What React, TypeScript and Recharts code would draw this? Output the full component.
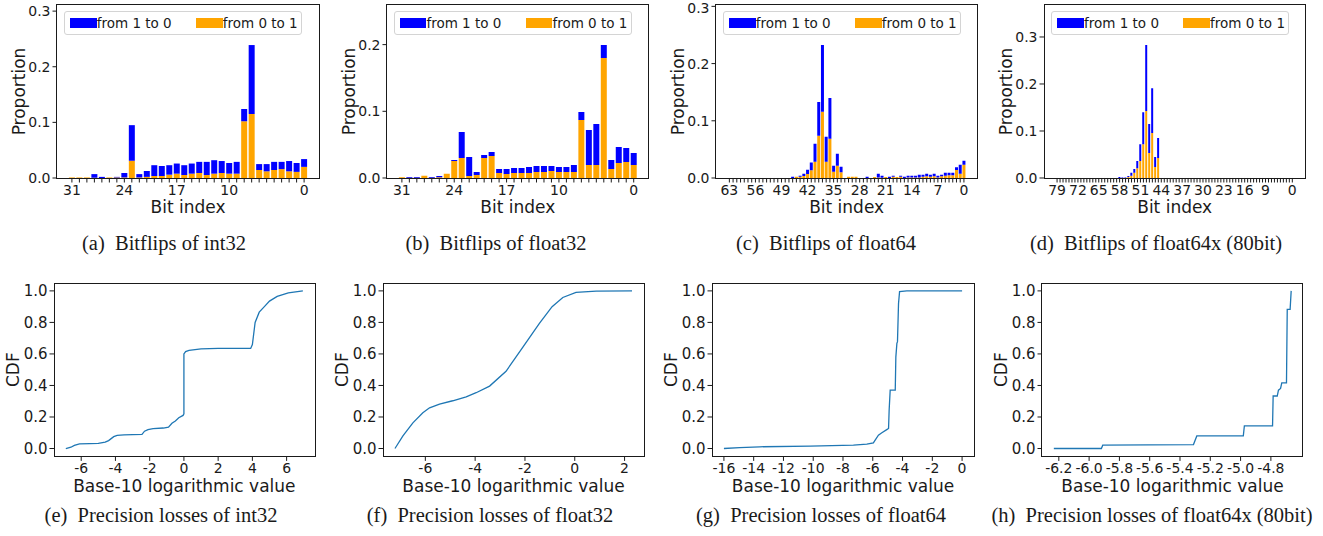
import { Bar, BarChart, Legend, Line, LineChart, XAxis, YAxis } from 'recharts';

const FONT = '"DejaVu Sans", sans-serif';
const SERIF = '"Liberation Serif", "Times New Roman", serif';
const INK = '#1a1a1a';
const BLUE = '#0000ff';
const ORANGE = '#ffa500';
const CDF_BLUE = '#1f77b4';

// bit indices, highest bit on the left as in the paper figure
const bits32 = Array.from({ length: 32 }, (_, i) => 31 - i);
const bits64 = Array.from({ length: 64 }, (_, i) => 63 - i);
const bits80 = Array.from({ length: 80 }, (_, i) => 79 - i);

const labels32 = [31, 24, 17, 10, 0];
const labels64 = [63, 56, 49, 42, 35, 28, 21, 14, 7, 0];
const labels80 = [79, 72, 65, 58, 51, 44, 37, 30, 23, 16, 9, 0];

// proportions, bit 31 ... bit 0
const int32ZeroToOne = [
  0.001, 0.001, 0.001, 0.0005, 0, 0.001, 0.001, 0.001,
  0.031, 0.001, 0.002, 0.0036, 0.0036, 0.006, 0.0078, 0.0054,
  0.0078, 0.009, 0.0054, 0.0078, 0.009, 0.0078, 0.0078, 0.102,
  0.115, 0.0144, 0.012, 0.0144, 0.016, 0.012, 0.011, 0.02,
];
const int32OneToZero = [
  0, 0, 0, 0.0065, 0.002, 0, 0.001, 0.008,
  0.064, 0.006, 0.0106, 0.0194, 0.018, 0.017, 0.0182, 0.0176,
  0.0182, 0.02, 0.0236, 0.0242, 0.0215, 0.0192, 0.0212, 0.022,
  0.124, 0.0106, 0.013, 0.0146, 0.013, 0.0185, 0.016, 0.014,
];

const float32ZeroToOne = [
  0.001, 0.0005, 0.0005, 0.0035, 0.0005, 0.001, 0.0065, 0.0255,
  0.03, 0.003, 0.0045, 0.03, 0.033, 0.0075, 0.006, 0.0075,
  0.0075, 0.0075, 0.009, 0.009, 0.0105, 0.009, 0.009, 0.009,
  0.087, 0.0195, 0.0195, 0.18, 0.0135, 0.0225, 0.024, 0.0195,
];
const float32OneToZero = [
  0, 0.001, 0.001, 0, 0.001, 0.002, 0, 0.0015,
  0.039, 0.0285, 0.0045, 0.0045, 0.006, 0.006, 0.0075, 0.0075,
  0.0075, 0.009, 0.009, 0.009, 0.0075, 0.0075, 0.0075, 0.0105,
  0.012, 0.0525, 0.0615, 0.0195, 0.0135, 0.024, 0.021, 0.018,
];

// bit 63 ... bit 0
const float64ZeroToOne = [
  0, 0, 0, 0, 0, 0, 0, 0, 0, 0,
  0, 0, 0, 0, 0, 0, 0, 0, 0.0023, 0.0023,
  0.0035, 0.007, 0.0134, 0.0285, 0.074, 0.1157, 0.0285, 0.0686, 0.011, 0.0215,
  0.0099, 0, 0.0023, 0.0023, 0.0023, 0, 0, 0, 0, 0.0017,
  0.001, 0.0005, 0.0017, 0, 0.0023, 0.0017, 0.0023, 0, 0.001, 0.001,
  0.001, 0.001, 0.002, 0.003, 0.002, 0.003, 0.001, 0.003, 0.004, 0.005,
  0.005, 0.014, 0.0076, 0.023,
];
const float64OneToZero = [
  0, 0, 0, 0, 0, 0, 0, 0, 0, 0,
  0, 0, 0, 0, 0, 0, 0, 0.0023, 0, 0.0017,
  0.004, 0.0075, 0.0136, 0.0315, 0.059, 0.1169, 0.0435, 0.0714, 0.0105, 0.0209,
  0.0099, 0, 0, 0, 0, 0, 0, 0.0023, 0, 0,
  0.0065, 0.0035, 0, 0.0023, 0.0017, 0, 0.0017, 0.0023, 0.003, 0.003,
  0.003, 0.0048, 0.0038, 0.0046, 0.0038, 0.0046, 0.003, 0.0028, 0.0053, 0.0043,
  0.0043, 0.005, 0.0154, 0.007,
];

// bit 79 ... bit 0
const float64xZeroToOne = [
  0, 0, 0, 0, 0, 0, 0, 0, 0, 0,
  0, 0, 0, 0, 0, 0, 0, 0, 0, 0,
  0, 0, 0, 0, 0.002, 0.005, 0.011, 0.021, 0.036, 0.0716,
  0.1426, 0.053, 0.0957, 0.0234, 0.0426, 0, 0, 0, 0, 0,
  0, 0, 0, 0, 0, 0, 0, 0, 0, 0,
  0, 0, 0, 0, 0, 0, 0, 0, 0, 0,
  0, 0, 0, 0, 0, 0, 0, 0, 0, 0,
  0, 0, 0, 0, 0, 0, 0, 0, 0, 0,
];
const float64xOneToZero = [
  0, 0, 0, 0, 0, 0, 0, 0, 0, 0,
  0, 0, 0, 0, 0, 0, 0, 0, 0, 0,
  0, 0.002, 0.001, 0.001, 0.002, 0.006, 0.008, 0.015, 0.036, 0.0684,
  0.1404, 0.062, 0.0953, 0.0213, 0.0424, 0, 0, 0, 0, 0,
  0, 0, 0, 0, 0, 0, 0, 0, 0, 0,
  0, 0, 0, 0, 0, 0, 0, 0, 0, 0,
  0, 0, 0, 0, 0, 0, 0, 0, 0, 0,
  0, 0, 0, 0, 0, 0, 0, 0, 0, 0,
];

const proportionTicks = [0, 0.1, 0.2, 0.3];

// precision-loss CDFs (x = base-10 log of the loss)
const int32LossX = [
  -6.9, -6.6, -6.4, -6.1, -5.5, -5.0, -4.6, -4.4, -4.1, -3.9, -3.5, -3.0, -2.45,
  -2.3, -2.1, -1.8, -1.2, -0.9, -0.7, -0.5, -0.3, -0.05, 0.0, 0.0, 0.1, 0.3, 1.0,
  2.0, 3.9, 4.0, 4.16, 4.4, 4.7, 5.0, 5.45, 6.1, 6.95,
];
const int32LossCdf = [
  0.0, 0.008, 0.02, 0.03, 0.031, 0.032, 0.04, 0.05, 0.075, 0.083, 0.086, 0.088, 0.09,
  0.11, 0.12, 0.126, 0.13, 0.135, 0.16, 0.175, 0.195, 0.21, 0.22, 0.6, 0.615, 0.622, 0.632,
  0.635, 0.635, 0.66, 0.8, 0.865, 0.9, 0.935, 0.965, 0.988, 1.0,
];

const float32LossX = [
  -7.22, -6.9, -6.5, -6.1, -5.83, -5.43, -4.9, -4.36, -3.96, -3.42, -2.76, -2.09,
  -1.42, -0.91, -0.48, 0.05, 0.86, 2.3,
];
const float32LossCdf = [
  0, 0.08, 0.163, 0.227, 0.258, 0.282, 0.303, 0.328, 0.354, 0.396, 0.49, 0.642,
  0.794, 0.9, 0.958, 0.99, 0.998, 1.0,
];

const float64LossX = [
  -16, -14.94, -13.6, -10.2, -7.3, -6.4, -5.96, -5.84, -5.62, -5.39, -5.06, -4.94,
  -4.9, -4.83, -4.49, -4.45, -4.38, -4.34, -4.27, -4.2, -3.71, 0,
];
const float64LossCdf = [
  0, 0.006, 0.011, 0.015, 0.021, 0.028, 0.036, 0.053, 0.085, 0.1, 0.12, 0.127,
  0.243, 0.37, 0.37, 0.58, 0.667, 0.678, 0.92, 0.995, 1.0, 1.0,
];

const float64xLossX = [
  -6.233, -5.919, -5.91, -5.311, -5.289, -4.982, -4.975, -4.789, -4.785, -4.758,
  -4.75, -4.736, -4.728, -4.697, -4.692, -4.673, -4.666,
];
const float64xLossCdf = [
  0, 0, 0.021, 0.025, 0.08, 0.08, 0.144, 0.144, 0.333, 0.333,
  0.37, 0.381, 0.417, 0.417, 0.883, 0.883, 1.0,
];

const cdfTicks = [0, 0.2, 0.4, 0.6, 0.8, 1.0];
const int32LossTicks = [-6, -4, -2, 0, 2, 4, 6];
const float32LossTicks = [-6, -4, -2, 0, 2];
const float64LossTicks = [-16, -14, -12, -10, -8, -6, -4, -2, 0];
const float64xLossTicks = [-6.2, -6.0, -5.8, -5.6, -5.4, -5.2, -5.0, -4.8];

type Box = { x: number; y: number; w: number; h: number };

const Y_AXIS_W = 57;
const X_AXIS_H = 40;
const TOP_GAP = 5;

function bitRows(bits: number[], zeroToOne: number[], oneToZero: number[]) {
  return bits.map((bit, i) => ({ bit, zeroToOne: zeroToOne[i], oneToZero: oneToZero[i] }));
}

function cdfRows(xs: number[], ys: number[]) {
  return xs.map((x, i) => ({ x, cdf: ys[i] }));
}

// matplotlib keeps 0.4 + 5% of the bar span free on each side of the outer bars
function barPadding(n: number, plotW: number) {
  const side = 0.4 + 0.05 * (n - 0.2);
  const unit = plotW / (n - 1 + 2 * side);
  return unit * (side - 0.5);
}

const tickStyle = (size: number) => ({ fontSize: size, fill: INK, fontFamily: FONT });
const labelStyle = { textAnchor: 'middle', fontSize: 17, fill: INK, fontFamily: FONT } as const;

// the four spines of a matplotlib axes
function Frame({ plot }: { plot: Box }) {
  return (
    <div
      style={{
        position: 'absolute',
        left: plot.x - 0.6,
        top: plot.y - 0.6,
        width: plot.w + 1.2,
        height: plot.h + 1.2,
        boxSizing: 'border-box',
        border: `1.2px solid ${INK}`,
        pointerEvents: 'none',
      }}
    />
  );
}

function FlipLegend({ payload }: { payload?: any[] }) {
  const items = [...(payload ?? [])].reverse();
  return (
    <div
      style={{
        position: 'relative',
        width: 238,
        height: 24,
        boxSizing: 'border-box',
        border: '1px solid #d4d4d4',
        borderRadius: 3,
        background: 'rgba(255,255,255,0.8)',
        fontFamily: FONT,
        fontSize: 13.5,
        color: INK,
      }}
    >
      {items.map((item, i) => (
        <div
          key={item.value}
          style={{ position: 'absolute', left: i === 0 ? 5 : 131, top: 3, height: 16, display: 'flex', alignItems: 'center', whiteSpace: 'nowrap' }}
        >
          <span style={{ display: 'inline-block', width: 26.7, height: 10, background: item.color }} />
          <span>{item.value}</span>
        </div>
      ))}
    </div>
  );
}

function BitflipPanel({ plot, rows, yMax, xLabels }: { plot: Box; rows: any[]; yMax: number; xLabels: number[] }) {
  const pad = barPadding(rows.length, plot.w);
  return (
    <>
      <div style={{ position: 'absolute', left: plot.x - Y_AXIS_W, top: plot.y - TOP_GAP }}>
        <BarChart
          width={Y_AXIS_W + plot.w + 2}
          height={TOP_GAP + plot.h + X_AXIS_H}
          data={rows}
          margin={{ top: TOP_GAP, right: 2, bottom: 0, left: 0 }}
          barCategoryGap="10%"
        >
          <XAxis
            dataKey="bit"
            interval={0}
            padding={{ left: pad, right: pad }}
            height={X_AXIS_H}
            tickSize={4.5}
            tickMargin={2.5}
            tick={tickStyle(14)}
            tickLine={{ stroke: INK }}
            axisLine={false}
            tickFormatter={(v) => (xLabels.includes(Number(v)) ? String(v) : '')}
            label={{ value: 'Bit index', position: 'insideBottom', offset: 5, style: labelStyle }}
          />
          <YAxis
            type="number"
            domain={[0, yMax]}
            ticks={proportionTicks.filter((t) => t <= yMax)}
            allowDataOverflow
            width={Y_AXIS_W}
            tickSize={4.5}
            tickMargin={2}
            tick={tickStyle(14)}
            tickLine={{ stroke: INK }}
            axisLine={false}
            tickFormatter={(v) => Number(v).toFixed(1)}
            label={{ value: 'Proportion', angle: -90, position: 'insideLeft', offset: 19, style: labelStyle }}
          />
          <Legend
            layout="horizontal"
            verticalAlign="middle"
            align="center"
            wrapperStyle={{ top: TOP_GAP + 6, left: Y_AXIS_W + 7, width: 238, height: 24 }}
            content={(p: any) => <FlipLegend payload={p.payload} />}
          />
          <Bar dataKey="zeroToOne" name="from 0 to 1" stackId="flip" fill={ORANGE} isAnimationActive={false} />
          <Bar dataKey="oneToZero" name="from 1 to 0" stackId="flip" fill={BLUE} isAnimationActive={false} />
        </BarChart>
      </div>
      <Frame plot={plot} />
    </>
  );
}

function LossPanel({ plot, rows, xDomain, xTicks, digits }: { plot: Box; rows: any[]; xDomain: [number, number]; xTicks: number[]; digits: number }) {
  return (
    <>
      <div style={{ position: 'absolute', left: plot.x - Y_AXIS_W, top: plot.y - TOP_GAP }}>
        <LineChart
          width={Y_AXIS_W + plot.w + 2}
          height={TOP_GAP + plot.h + X_AXIS_H}
          data={rows}
          margin={{ top: TOP_GAP, right: 2, bottom: 0, left: 0 }}
        >
          <XAxis
            type="number"
            dataKey="x"
            domain={xDomain}
            ticks={xTicks}
            interval={0}
            allowDataOverflow
            height={X_AXIS_H}
            tickSize={4.5}
            tickMargin={2.5}
            tick={tickStyle(14)}
            tickLine={{ stroke: INK }}
            axisLine={false}
            tickFormatter={(v) => Number(v).toFixed(digits)}
            label={{ value: 'Base-10 logarithmic value', position: 'insideBottom', offset: 4.5, style: labelStyle }}
          />
          <YAxis
            type="number"
            domain={[-0.05, 1.05]}
            ticks={cdfTicks}
            allowDataOverflow
            width={Y_AXIS_W}
            tickSize={4.5}
            tickMargin={2}
            tick={tickStyle(15)}
            tickLine={{ stroke: INK }}
            axisLine={false}
            tickFormatter={(v) => Number(v).toFixed(1)}
            label={{ value: 'CDF', angle: -90, position: 'insideLeft', offset: 16, style: labelStyle }}
          />
          <Line type="linear" dataKey="cdf" stroke={CDF_BLUE} strokeWidth={1.3} dot={false} isAnimationActive={false} />
        </LineChart>
      </div>
      <Frame plot={plot} />
    </>
  );
}

function Caption({ cx, top, children }: { cx: number; top: number; children: string }) {
  return (
    <div
      style={{
        position: 'absolute',
        left: cx - 170,
        top,
        width: 340,
        textAlign: 'center',
        fontFamily: SERIF,
        fontSize: 20.5,
        lineHeight: '24px',
        color: INK,
        whiteSpace: 'pre',
      }}
    >
      {children}
    </div>
  );
}

export default function App() {
  return (
    <div style={{ position: 'absolute', left: 0, top: 0, width: 1323, height: 536, background: '#fff', overflow: 'hidden' }}>
      <BitflipPanel plot={{ x: 57, y: 5, w: 262, h: 173 }} rows={bitRows(bits32, int32ZeroToOne, int32OneToZero)} yMax={0.311} xLabels={labels32} />
      <BitflipPanel plot={{ x: 386.7, y: 5, w: 261.6, h: 173 }} rows={bitRows(bits32, float32ZeroToOne, float32OneToZero)} yMax={0.2594} xLabels={labels32} />
      <BitflipPanel plot={{ x: 716, y: 5, w: 261.3, h: 173 }} rows={bitRows(bits64, float64ZeroToOne, float64OneToZero)} yMax={0.3024} xLabels={labels64} />
      <BitflipPanel plot={{ x: 1044.3, y: 5, w: 261.4, h: 173 }} rows={bitRows(bits80, float64xZeroToOne, float64xOneToZero)} yMax={0.368} xLabels={labels80} />

      <LossPanel plot={{ x: 54.3, y: 283.3, w: 260.7, h: 173.4 }} rows={cdfRows(int32LossX, int32LossCdf)} xDomain={[-7.59, 7.64]} xTicks={int32LossTicks} digits={0} />
      <LossPanel plot={{ x: 383.3, y: 283.3, w: 261, h: 173.4 }} rows={cdfRows(float32LossX, float32LossCdf)} xDomain={[-7.7, 2.78]} xTicks={float32LossTicks} digits={0} />
      <LossPanel plot={{ x: 712.3, y: 283.3, w: 262, h: 173.4 }} rows={cdfRows(float64LossX, float64LossCdf)} xDomain={[-16.8, 0.8]} xTicks={float64LossTicks} digits={0} />
      <LossPanel plot={{ x: 1041.7, y: 283.3, w: 261, h: 173.4 }} rows={cdfRows(float64xLossX, float64xLossCdf)} xDomain={[-6.311, -4.588]} xTicks={float64xLossTicks} digits={1} />

      <Caption cx={164} top={231}>{'(a)\u2002Bitflips of int32'}</Caption>
      <Caption cx={496} top={231}>{'(b)\u2002Bitflips of float32'}</Caption>
      <Caption cx={826} top={231}>{'(c)\u2002Bitflips of float64'}</Caption>
      <Caption cx={1156} top={231}>{'(d)\u2002Bitflips of float64x (80bit)'}</Caption>
      <Caption cx={161} top={503}>{'(e)\u2002Precision losses of int32'}</Caption>
      <Caption cx={490} top={503}>{'(f)\u2002Precision losses of float32'}</Caption>
      <Caption cx={821} top={503}>{'(g)\u2002Precision losses of float64'}</Caption>
      <Caption cx={1152} top={503}>{'(h)\u2002Precision losses of float64x (80bit)'}</Caption>
    </div>
  );
}
